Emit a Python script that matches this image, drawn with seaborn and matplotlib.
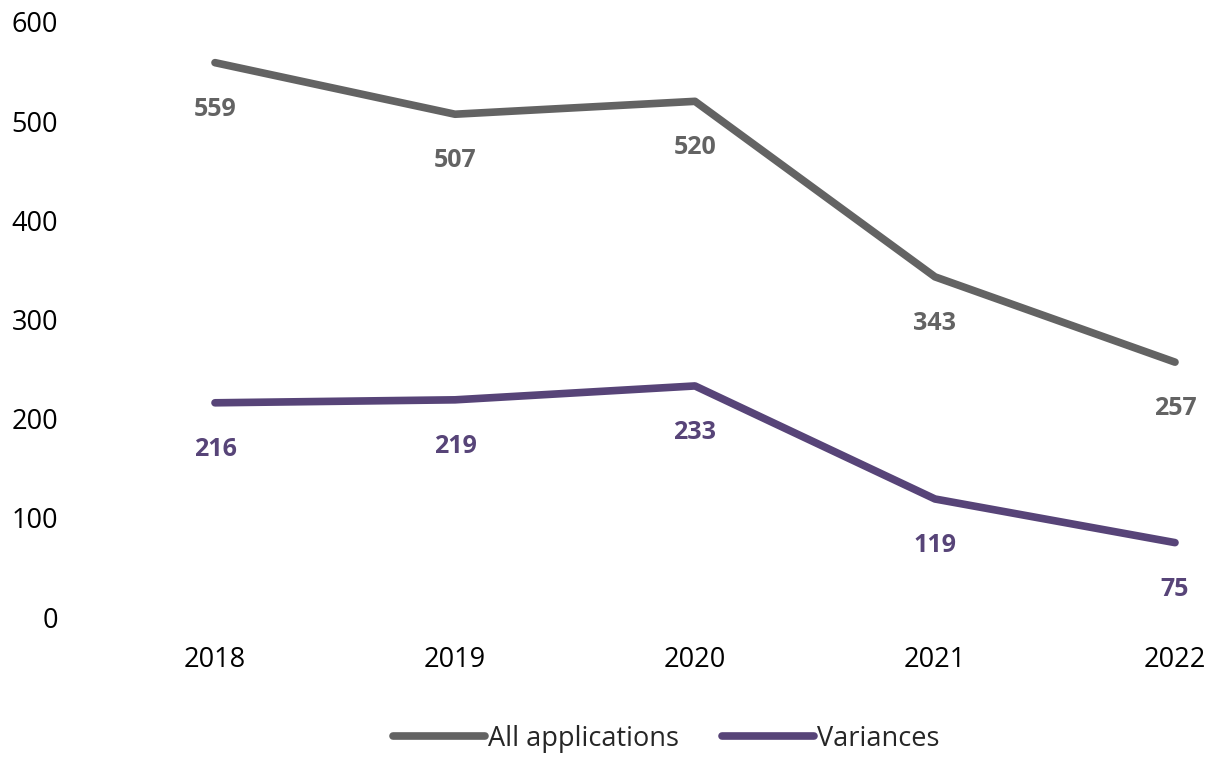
import matplotlib
matplotlib.use("Agg")
import matplotlib.pyplot as plt
import seaborn as sns
import pandas as pd

years = ["2018", "2019", "2020", "2021", "2022"]
all_applications = [559, 507, 520, 343, 257]
variances = [216, 219, 233, 119, 75]
series_names = ["All applications", "Variances"]
colors = {"All applications": "#636363", "Variances": "#574478"}

sns.set_theme(style="white")
plt.rcParams['font.family'] = ['Open Sans', 'DejaVu Sans']

df = pd.DataFrame({
    "year": years * 2,
    "x": list(range(len(years))) * 2,
    "value": all_applications + variances,
    "series": [series_names[0]] * len(years) + [series_names[1]] * len(years),
})

fig = plt.figure(figsize=(12.16, 7.57), dpi=100)
ax = fig.add_axes([97 / 1216, 140 / 757, (1216 - 97) / 1216, (617 - 22) / 757])

sns.lineplot(data=df, x="x", y="value", hue="series", palette=colors,
             linewidth=5.5, ax=ax, legend=True)
for line in ax.get_lines():
    line.set_solid_capstyle("round")

for name in series_names:
    sub = df[df.series == name]
    for xv, yv in zip(sub.x, sub.value):
        ax.annotate(str(yv), (xv, yv), xytext=(0, -33.5), textcoords="offset points",
                    ha="center", va="center", fontsize=18, fontweight="bold",
                    color=colors[name])

ax.set_xlim(-(215 - 97) / 240, 4 + (1216 - 1175) / 240)
ax.set_ylim(0, 600)
ax.set_yticks(range(0, 601, 100))
ax.set_xticks(range(len(years)))
ax.set_xticklabels(years)
ax.tick_params(axis="both", labelsize=19.5, colors="black", length=0)
ax.tick_params(axis="x", pad=21)
ax.tick_params(axis="y", pad=28)
for lbl in ax.get_yticklabels():
    lbl.set_horizontalalignment("right")
ax.set_xlabel("")
ax.set_ylabel("")
for s in ax.spines.values():
    s.set_visible(False)
ax.grid(False)

handles, labels = ax.get_legend_handles_labels()
for h in handles:
    h.set_linewidth(5.5)
    h.set_solid_capstyle("round")
ax.legend(handles, labels, loc="center", bbox_to_anchor=((666 - 97) / (1216 - 97), -0.205),
          ncol=2, frameon=False, fontsize=19.5, handlelength=3.4, handletextpad=0.1,
          columnspacing=1.6)

fig.savefig("out.png", dpi=100)
